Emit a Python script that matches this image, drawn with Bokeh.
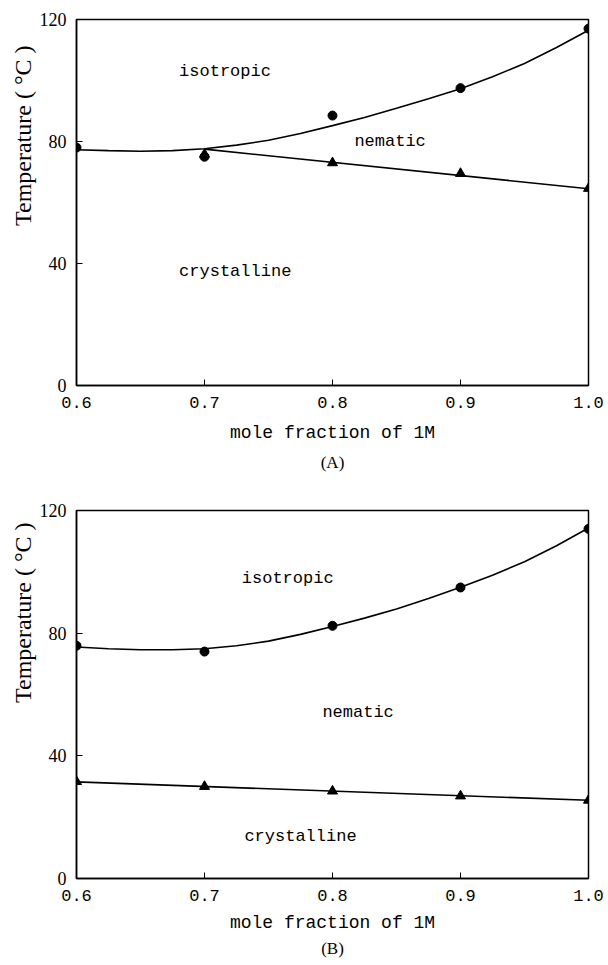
from bokeh.plotting import figure
from bokeh.layouts import column
from bokeh.models import Range1d, FixedTicker, Label, Title
from bokeh.embed import file_html
from bokeh.resources import INLINE

# ---- data ----
x_pts = [0.6, 0.7, 0.8, 0.9, 1.0]
x_tick_labels = ["0.6", "0.7", "0.8", "0.9", "1.0"]
y_ticks = [0, 40, 80, 120]

# panel A
a_iso_pts = [78.0, 75.0, 88.5, 97.5, 117.0]
a_tri_x = [0.7, 0.8, 0.9, 1.0]
a_tri_pts = [75.8, 73.0, 69.5, 64.6]
curve_x = [0.6, 0.625, 0.65, 0.675, 0.7, 0.725, 0.75, 0.775, 0.8,
           0.825, 0.85, 0.875, 0.9, 0.925, 0.95, 0.975, 1.0]
a_curve = [77.3, 77.0, 76.8, 77.0, 77.6, 78.8, 80.4, 82.6, 85.2,
           87.9, 90.9, 94.0, 97.3, 101.2, 105.6, 110.8, 116.5]
a_line_x = [0.7, 1.0]
a_line_y = [77.5, 64.5]

# panel B
b_iso_pts = [75.9, 74.0, 82.4, 94.9, 114.0]
b_tri_pts = [31.6, 30.0, 28.5, 26.9, 25.5]
b_curve = [75.5, 74.9, 74.6, 74.6, 74.9, 75.9, 77.4, 79.6, 82.2,
           84.9, 87.9, 91.3, 95.0, 98.9, 103.3, 108.5, 114.3]
b_line_x = [0.6, 1.0]
b_line_y = [31.5, 25.5]

MONO = "Liberation Mono"
SERIF = "Liberation Serif"
NARROW = "Liberation Sans Narrow"
Y_TITLE = "Temperature (  \u00b0C  )"


def panel(height, left, right, top, bottom, iso, tri_x, tri, curve, lx, ly,
          regions, ylab_offset, tag, tag_standoff, title_standoff):
    p = figure(width=608, height=height, x_range=Range1d(0.6, 1.0),
               y_range=Range1d(0, 120), output_backend="svg",
               toolbar_location=None, min_border_left=left,
               min_border_right=right, min_border_top=top,
               min_border_bottom=bottom)
    p.xgrid.visible = False
    p.ygrid.visible = False
    p.outline_line_color = "black"
    p.outline_line_width = 1.5
    p.background_fill_color = "white"
    p.border_fill_color = "white"

    xa = p.xaxis[0]
    xa.ticker = FixedTicker(ticks=x_pts)
    xa.major_label_overrides = {v: s for v, s in zip(x_pts, x_tick_labels)}
    xa.major_tick_in = 6
    xa.major_tick_out = 0
    xa.minor_tick_line_color = None
    xa.axis_line_width = 1.5
    xa.major_label_text_font = MONO
    xa.major_label_text_font_size = "17px"
    xa.major_label_text_color = "black"
    xa.major_label_standoff = 11
    xa.axis_label = "mole fraction of 1M"
    xa.axis_label_text_font = MONO
    xa.axis_label_text_font_size = "18px"
    xa.axis_label_text_font_style = "normal"
    xa.axis_label_text_color = "black"
    xa.axis_label_standoff = title_standoff

    ya = p.yaxis[0]
    ya.ticker = FixedTicker(ticks=y_ticks)
    ya.major_tick_in = 6
    ya.major_tick_out = 0
    ya.minor_tick_line_color = None
    ya.axis_line_width = 1.5
    ya.major_label_text_font = NARROW
    ya.major_label_text_font_size = "18px"
    ya.major_label_text_color = "black"
    ya.major_label_standoff = 10

    p.line(curve_x, curve, line_color="black", line_width=1.6)
    p.line(lx, ly, line_color="black", line_width=1.6)
    p.scatter(x_pts, iso, marker="circle", size=9, color="black")
    p.scatter(tri_x, tri, marker="triangle", size=10, color="black")

    for txt, tx, ty in regions:
        p.add_layout(Label(x=tx, y=ty, text=txt, text_font=MONO,
                           text_font_size="17px", text_align="center",
                           text_baseline="middle", text_color="black"))

    p.add_layout(Title(text=Y_TITLE, align="right",
                       offset=ylab_offset, text_font=SERIF,
                       text_font_size="24px", text_font_style="normal",
                       text_color="black", standoff=2), "left")

    p.add_layout(Title(text=tag, align="center", text_font=SERIF,
                       text_font_size="17px", text_font_style="normal",
                       text_color="black", standoff=tag_standoff), "below")
    return p


pA = panel(480, 73, 20, 19, 95, a_iso_pts, a_tri_x, a_tri_pts, a_curve,
           a_line_x, a_line_y,
           [("isotropic", 0.716, 103), ("nematic", 0.845, 80),
            ("crystalline", 0.724, 37.4)],
           14, "(A)", 11, 12)

pB = panel(485, 76, 19, 30, 87, b_iso_pts, x_pts, b_tri_pts, b_curve,
           b_line_x, b_line_y,
           [("isotropic", 0.765, 97.7), ("nematic", 0.82, 54),
            ("crystalline", 0.775, 13.7)],
           0, "(B)", 3, 9)

layout = column(pA, pB, spacing=0)
open("out.html", "w").write(file_html(layout, INLINE))
